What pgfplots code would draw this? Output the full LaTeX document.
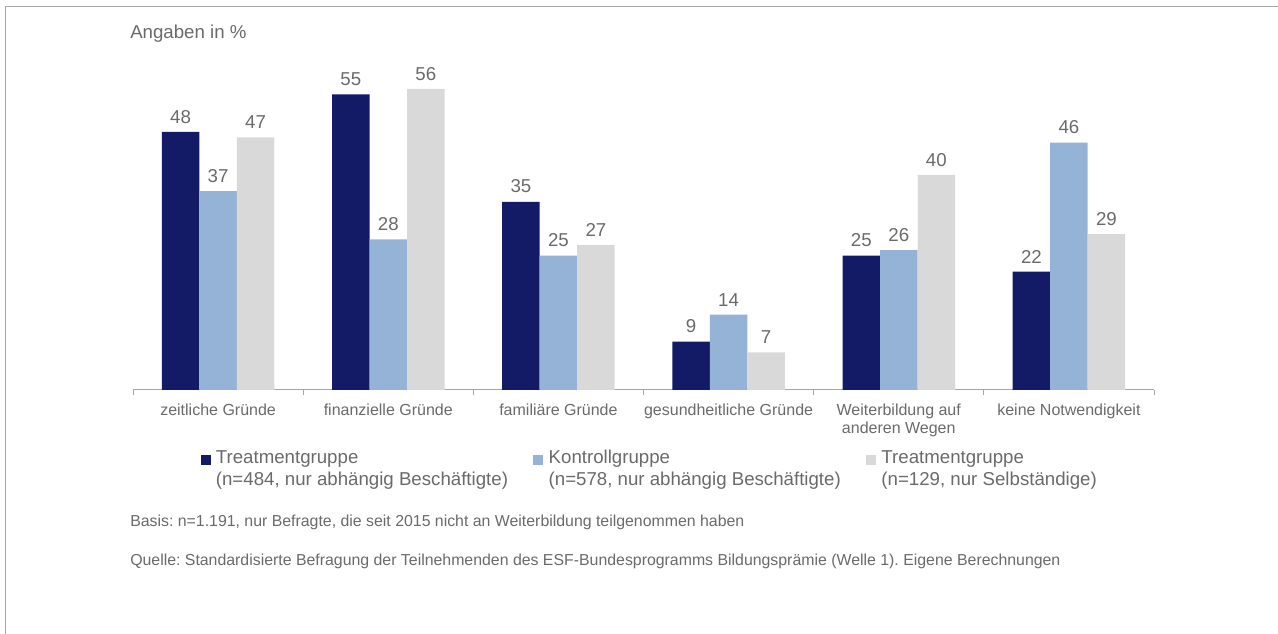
\documentclass[border=0pt]{standalone}
\usepackage{fontspec}
\setmainfont{Liberation Sans}
\usepackage{pgfplots}
\pgfplotsset{compat=1.18}
\definecolor{navy}{HTML}{141B66}
\definecolor{midblue}{HTML}{95B3D7}
\definecolor{lgray}{HTML}{D9D9D9}
\definecolor{txt}{HTML}{6A6A6A}
\definecolor{axline}{HTML}{A6A6A6}
\frenchspacing
\begin{document}
\begin{tikzpicture}[x=0.75pt,y=0.75pt]
\path[use as bounding box] (0,0) rectangle (1278,634);
\draw[color=axline, line width=0.75pt] (5,0) -- (5,627) -- (1278,627);
\node[anchor=west, text=txt, font=\fontsize{14}{16}\selectfont, inner sep=0pt] at (130,600) {Angaben in \%};
\begin{axis}[
  at={(99.75pt,183pt)}, anchor=south west,
  scale only axis, width=765.75pt, height=241.875pt,
  xmin=-0.5, xmax=5.5, ymin=0, ymax=60,
  ybar=0pt, bar width=28.125pt,
  axis x line=bottom, axis y line=none, ytick=\empty,
  axis line style={draw=axline, line width=0.75pt, -},
  xtick={0,...,5},
  xticklabels={zeitliche Gründe, finanzielle Gründe, familiäre Gründe, gesundheitliche Gründe, {Weiterbildung auf\\anderen Wegen}, keine Notwendigkeit},
  major tick length=0pt,
  minor xtick={-0.5,0.5,...,5.5}, minor tick length=4pt, tick align=outside,
  minor x tick style={draw=axline, line width=0.75pt},
  xticklabel style={font=\fontsize{12}{13.5}\selectfont, text=txt, align=center, yshift=-7pt},
  nodes near coords,
  every node near coord/.append style={font=\fontsize{14}{16}\selectfont, text=txt, yshift=3pt},
  /pgf/number format/assume math mode=true,
  legend columns=3,
  legend image code/.code={\fill[#1] (0pt,3.2pt) rectangle (7.5pt,10.7pt); \path (9.5pt,3.2pt);},
  legend style={draw=none, fill=none, at={(0.062,-0.17)}, anchor=north west,
    /tikz/every even column/.append style={column sep=17pt},
    font=\fontsize{14}{16.5}\selectfont, text=txt, cells={anchor=west, align=left}},
]
\addplot[fill=navy, draw=none] coordinates {(0,48) (1,55) (2,35) (3,9) (4,25) (5,22)};
\addplot[fill=midblue, draw=none] coordinates {(0,37) (1,28) (2,25) (3,14) (4,26) (5,46)};
\addplot[fill=lgray, draw=none] coordinates {(0,47) (1,56) (2,27) (3,7) (4,40) (5,29)};
\legend{{Treatmentgruppe\\(n=484, nur abhängig Beschäftigte)},{Kontrollgruppe\\(n=578, nur abhängig Beschäftigte)},{Treatmentgruppe\\(n=129, nur Selbständige)}}
\end{axis}
\node[anchor=west, text=txt, font=\fontsize{11.9}{13}\selectfont, inner sep=0pt] at (130,112) {Basis: n=1.191, nur Befragte, die seit 2015 nicht an Weiterbildung teilgenommen haben};
\node[anchor=west, text=txt, font=\fontsize{11.9}{13}\selectfont, inner sep=0pt] at (130,73) {Quelle: Standardisierte Befragung der Teilnehmenden des ESF-Bundesprogramms Bildungsprämie (Welle 1). Eigene Berechnungen};
\end{tikzpicture}
\end{document}
